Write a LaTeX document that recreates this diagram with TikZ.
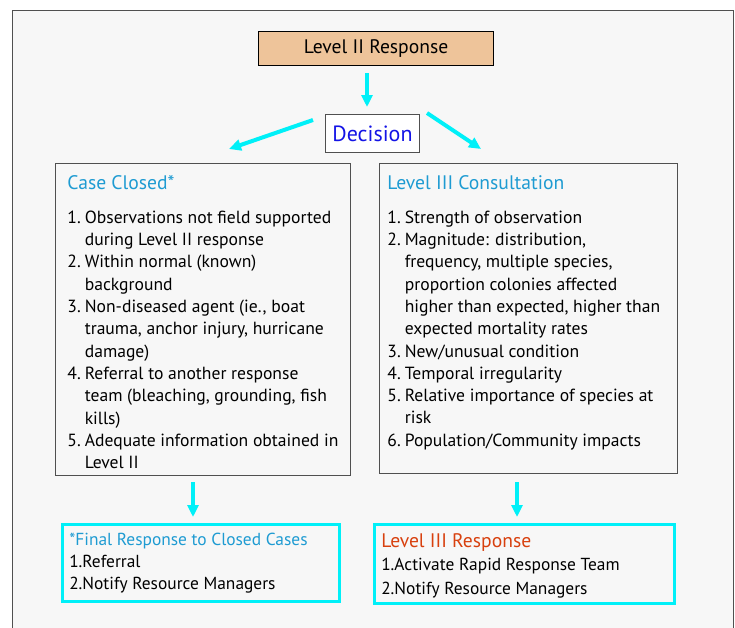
\documentclass[tikz,border=0pt]{standalone}
\usepackage{fontspec}
\setmainfont{PT Sans}
\usetikzlibrary{arrows.meta}
\definecolor{bgray}{HTML}{F7F7F7}
\definecolor{tan}{HTML}{EEC49A}
\definecolor{cyanarr}{HTML}{00F0F8}
\definecolor{ttlblue}{HTML}{1E9BD2}
\definecolor{decblue}{HTML}{1414E6}
\definecolor{orred}{HTML}{D8400E}
\definecolor{framec}{HTML}{505050}
\tikzset{
  bigbox/.style={draw=framec, line width=0.9pt, fill=bgray, inner ysep=12pt, anchor=north west},
  cybox/.style={draw=cyanarr, line width=2.5pt, fill=bgray, inner xsep=7pt, inner ysep=9pt, anchor=north west},
  flow/.style={draw=cyanarr, line width=4pt, -{Triangle[width=11pt,length=12pt]}},
  bodyfont/.style={font=\fontsize{17.6}{22.3}\selectfont},
  ttlfont/.style={font=\fontsize{19.6}{22}\selectfont}
}
\begin{document}
\begin{tikzpicture}[x=1pt,y=-1pt]
\useasboundingbox (0,0) rectangle (735,627);
\fill[white] (0,0) rectangle (735,627);
\draw[framec, line width=1pt, fill=bgray] (12,10) -- (12,640) -- (733,640) -- (733,10) -- cycle;

\node[draw=black, line width=1.2pt, fill=tan, minimum width=235pt, minimum height=34pt, inner sep=0pt, anchor=north west,
  ttlfont] (l2) at (258,31) {Level II Response};

\node[draw=framec, line width=0.9pt, fill=white, minimum width=94pt, minimum height=38pt, inner sep=0pt, anchor=north west,
  font=\fontsize{22}{24}\selectfont, text=decblue] (dec) at (325,114) {Decision};

\node[bigbox, bodyfont, inner xsep=12pt] (cc) at (55,163) {\begin{minipage}[t][288pt][t]{271pt}
{\fontsize{19.6}{22}\selectfont\color{ttlblue}Case Closed*}\par\vspace{17pt}
\begin{tabular}{@{}l@{\hspace{4pt}}l@{}}
1. & Observations not field supported\\
   & during Level II response\\
2. & Within normal (known)\\
   & background\\
3. & Non-diseased agent (ie., boat\\
   & trauma, anchor injury, hurricane\\
   & damage)\\
4. & Referral to another response\\
   & team (bleaching, grounding, fish\\
   & kills)\\
5. & Adequate information obtained in\\
   & Level II
\end{tabular}
\end{minipage}};

\node[bigbox, bodyfont, inner xsep=8pt] (cons) at (379,163) {\begin{minipage}[t][286pt][t]{282pt}
{\fontsize{19.6}{22}\selectfont\color{ttlblue}Level III Consultation}\par\vspace{17pt}
\begin{tabular}{@{}l@{\hspace{4pt}}l@{}}
1. & Strength of observation\\
2. & Magnitude: distribution,\\
   & frequency, multiple species,\\
   & proportion colonies affected\\
   & higher than expected, higher than\\
   & expected mortality rates\\
3. & New/unusual condition\\
4. & Temporal irregularity\\
5. & Relative importance of species at\\
   & risk\\
6. & Population/Community impacts
\end{tabular}
\end{minipage}};

\node[cybox, font=\fontsize{17.4}{22}\selectfont] (fin) at (61,523) {\begin{minipage}[t][59pt][t]{263pt}
{\color{ttlblue}*Final Response to Closed Cases}\\
1.Referral\\
2.Notify Resource Managers
\end{minipage}};

\node[cybox, font=\fontsize{17.4}{23.5}\selectfont] (l3) at (373,523) {\begin{minipage}[t][61pt][t]{286pt}
{\fontsize{19.6}{22}\selectfont\color{orred}Level III Response}\\
1.Activate Rapid Response Team\\
2.Notify Resource Managers
\end{minipage}};

\coordinate (a1s) at (367,73);
\coordinate (a1e) at (367,107);
\draw[flow] (a1s) -- (a1e);
\coordinate (a2s) at (313,120);
\coordinate (a2e) at (229,149);
\draw[flow] (a2s) -- (a2e);
\coordinate (a3s) at (427,113);
\coordinate (a3e) at (481,149);
\draw[flow] (a3s) -- (a3e);
\coordinate (a4s) at (193,482);
\coordinate (a4e) at (193,517);
\draw[flow] (a4s) -- (a4e);
\coordinate (a5s) at (517,482);
\coordinate (a5e) at (517,517);
\draw[flow] (a5s) -- (a5e);
\end{tikzpicture}
\end{document}
